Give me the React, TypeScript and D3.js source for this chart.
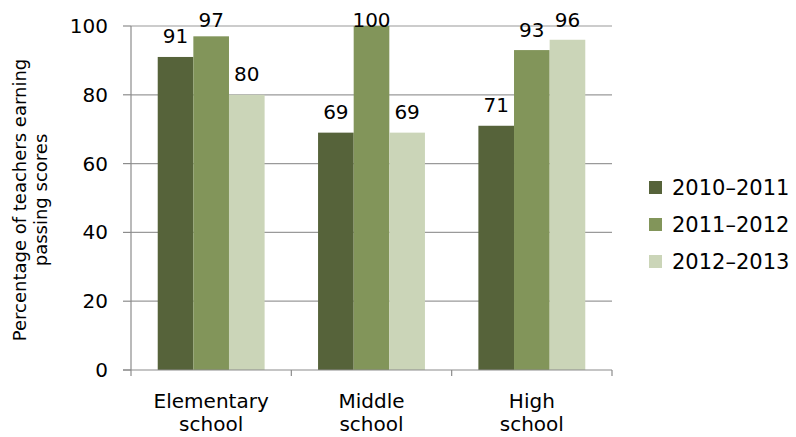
import React from "react";
import * as d3 from "d3";

// Share of teachers earning passing scores, by school level and school year
const categories = ["Elementary school", "Middle school", "High school"];
const categoryLines = [["Elementary", "school"], ["Middle", "school"], ["High", "school"]];
const seriesNames = ["2010–2011", "2011–2012", "2012–2013"];
const values2010 = [91, 69, 71];
const values2011 = [97, 100, 93];
const values2012 = [80, 69, 96];
const yTicks = [0, 20, 40, 60, 80, 100];
const yTitleLines = ["Percentage of teachers earning", "passing scores"];

const seriesValues = [values2010, values2011, values2012];
const colors = ["#56633A", "#82955A", "#CBD5B8"];

const W = 796;
const H = 437;
const plot = { left: 131, right: 612, top: 26, bottom: 370 };
const FONT = "'DejaVu Sans', sans-serif";

export default function App() {
  const x = d3
    .scaleBand<string>()
    .domain(categories)
    .range([plot.left, plot.right])
    .paddingInner(0)
    .paddingOuter(0);

  // 150% gap width: group occupies 3/4.5 of each category slot
  const step = x.bandwidth();
  const barW = step / 4.5;
  const groupOffset = (step - 3 * barW) / 2;
  const xInner = d3
    .scaleBand<number>()
    .domain([0, 1, 2])
    .range([0, 3 * barW]);

  const y = d3.scaleLinear().domain([0, 100]).range([plot.bottom, plot.top]);

  const gridColor = "#9A9A9A";
  const axisColor = "#8C8C8C";

  const boundaries = [...categories.map((c) => x(c) as number), plot.right];

  return (
    <svg width={W} height={H} style={{ display: "block", position: "absolute", left: 0, top: 0 }} fontFamily={FONT}>
      <rect x={0} y={0} width={W} height={H} fill="#FFFFFF" />

      {/* horizontal gridlines with left tick marks */}
      {yTicks.map((t) => (
        <g key={t}>
          {t > 0 && (
            <line x1={plot.left} x2={plot.right} y1={y(t)} y2={y(t)} stroke={gridColor} strokeWidth={1.2} />
          )}
          <line x1={plot.left - 8} x2={plot.left} y1={y(t)} y2={y(t)} stroke={axisColor} strokeWidth={1.2} />
          <text x={108} y={y(t) + 7} textAnchor="end" fontSize={20} fill="#000">
            {t}
          </text>
        </g>
      ))}

      {/* bars */}
      {categories.map((c, ci) => (
        <g key={c} transform={`translate(${(x(c) as number) + groupOffset},0)`}>
          {seriesValues.map((vals, si) => (
            <rect
              key={si}
              x={xInner(si) as number}
              y={y(vals[ci])}
              width={xInner.bandwidth()}
              height={plot.bottom - y(vals[ci])}
              fill={colors[si]}
            />
          ))}
        </g>
      ))}

      {/* value labels, kept inside the chart area at the top */}
      {categories.map((c, ci) =>
        seriesValues.map((vals, si) => {
          const cx = (x(c) as number) + groupOffset + (xInner(si) as number) + xInner.bandwidth() / 2;
          const by = Math.max(y(vals[ci]) - 13.5, 27);
          return (
            <text key={`${c}-${si}`} x={cx} y={by} textAnchor="middle" fontSize={20} fill="#000">
              {vals[ci]}
            </text>
          );
        })
      )}

      {/* axes */}
      <line x1={plot.left} x2={plot.left} y1={plot.top} y2={plot.bottom} stroke={axisColor} strokeWidth={1.2} />
      <line x1={plot.left - 8} x2={plot.right} y1={plot.bottom} y2={plot.bottom} stroke={axisColor} strokeWidth={1.2} />
      {boundaries.map((bx, i) => (
        <line key={i} x1={bx} x2={bx} y1={plot.bottom} y2={plot.bottom + 6} stroke={axisColor} strokeWidth={1.2} />
      ))}

      {/* category labels */}
      {categories.map((c, ci) => {
        const cx = (x(c) as number) + step / 2;
        return (
          <text key={c} textAnchor="middle" fontSize={20} fill="#000">
            {categoryLines[ci].map((ln, li) => (
              <tspan key={li} x={cx} y={408 + li * 23}>
                {ln}
              </tspan>
            ))}
          </text>
        );
      })}

      {/* y axis title */}
      <g transform="translate(0,200) rotate(-90)">
        {yTitleLines.map((ln, li) => (
          <text key={li} x={0} y={26 + li * 21} textAnchor="middle" fontSize={18} fill="#000">
            {ln}
          </text>
        ))}
      </g>

      {/* legend */}
      {seriesNames.map((s, si) => {
        const cy = 187.5 + si * 37;
        return (
          <g key={s}>
            <rect x={649} y={cy - 6.5} width={13} height={13} fill={colors[si]} />
            <text x={672} y={cy + 7.5} fontSize={21} fill="#000">
              {s}
            </text>
          </g>
        );
      })}
    </svg>
  );
}
